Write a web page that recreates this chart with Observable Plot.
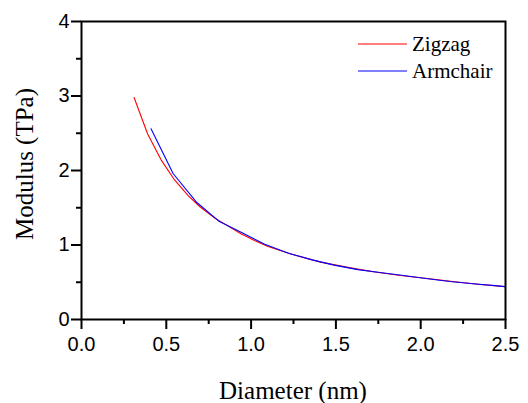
<!DOCTYPE html>
<html>
<head>
<meta charset="utf-8">
<script src="https://cdn.jsdelivr.net/npm/d3@7"></script>
<script src="https://cdn.jsdelivr.net/npm/@observablehq/plot@0.6"></script>
<style>
  html, body { margin: 0; padding: 0; background: #fff; }
  #chart { width: 528px; height: 403px; }
</style>
</head>
<body>
<div id="chart"></div>
<script>
// Zigzag series (diameter nm, modulus TPa)
const zigzagD = [0.31, 0.39, 0.47, 0.55, 0.63, 0.70, 0.78, 0.86, 0.94, 1.02, 1.10, 1.25, 1.41, 1.57, 1.72, 1.88, 2.04, 2.19, 2.35, 2.50];
const zigzagE = [2.98, 2.49, 2.14, 1.87, 1.66, 1.51, 1.37, 1.26, 1.15, 1.06, 0.98, 0.87, 0.77, 0.70, 0.64, 0.59, 0.55, 0.51, 0.47, 0.44];
// Armchair series
const armchairD = [0.41, 0.54, 0.68, 0.81, 0.95, 1.08, 1.22, 1.36, 1.49, 1.63, 1.76, 1.90, 2.03, 2.17, 2.31, 2.44, 2.50];
const armchairE = [2.56, 1.96, 1.57, 1.32, 1.16, 1.01, 0.89, 0.80, 0.73, 0.67, 0.63, 0.59, 0.55, 0.51, 0.48, 0.455, 0.44];

const seriesNames = ["Zigzag", "Armchair"];
const seriesColors = ["#ff0000", "#0000ff"];

const xMajor = [0, 0.5, 1.0, 1.5, 2.0, 2.5];
const xMinor = [0.25, 0.75, 1.25, 1.75, 2.25];
const yMajor = [0, 1, 2, 3, 4];
const yMinor = [0.5, 1.5, 2.5, 3.5];

const rows = [];
zigzagD.forEach((d, i) => rows.push({series: "Zigzag", d, e: zigzagE[i]}));
armchairD.forEach((d, i) => rows.push({series: "Armchair", d, e: armchairE[i]}));

const sans = "'Liberation Sans', Arial, sans-serif";
const serif = "'Liberation Serif', 'Times New Roman', serif";

const plot = Plot.plot({
  width: 528,
  height: 403,
  marginLeft: 81,
  marginRight: 23,
  marginTop: 21,
  marginBottom: 84,
  style: {fontFamily: sans, background: "#fff", color: "#000"},
  x: {domain: [0, 2.5]},
  y: {domain: [0, 4]},
  color: {domain: seriesNames, range: seriesColors},
  marks: [
    Plot.line(rows, {x: "d", y: "e", z: "series", stroke: "series", strokeWidth: 1.1, clip: true}),
    Plot.frame({stroke: "#000", strokeWidth: 2}),
    Plot.axisX({ticks: xMajor, tickSize: 10, tickPadding: 7, tickFormat: d3.format(".1f"),
      fontSize: 20, fontFamily: sans, strokeWidth: 2, label: null}),
    Plot.axisX({ticks: xMinor, tickSize: 5, tickFormat: () => "", strokeWidth: 2, label: null}),
    Plot.axisY({ticks: yMajor, tickSize: 10, tickPadding: 2, tickFormat: d3.format("d"),
      fontSize: 20, fontFamily: sans, strokeWidth: 2, label: null}),
    Plot.axisY({ticks: yMinor, tickSize: 5, tickFormat: () => "", strokeWidth: 2, label: null})
  ]
});

const svg = d3.select(plot);
// Axis titles
svg.append("text")
  .attr("x", 293).attr("y", 399)
  .attr("text-anchor", "middle")
  .attr("font-family", serif).attr("font-size", 25)
  .text("Diameter (nm)");
svg.append("text")
  .attr("transform", "translate(33,164) rotate(-90)")
  .attr("text-anchor", "middle")
  .attr("font-family", serif).attr("font-size", 25)
  .text("Modulus (TPa)");
// Legend
const legendY = [44, 71];
seriesNames.forEach((name, i) => {
  svg.append("line")
    .attr("x1", 358).attr("x2", 407)
    .attr("y1", legendY[i]).attr("y2", legendY[i])
    .attr("stroke", seriesColors[i]).attr("stroke-width", 1.1);
  svg.append("text")
    .attr("x", 412).attr("y", legendY[i] + 7)
    .attr("text-anchor", "start")
    .attr("font-family", serif).attr("font-size", 21)
    .text(name);
});

document.getElementById("chart").appendChild(plot);
</script>
</body>
</html>
